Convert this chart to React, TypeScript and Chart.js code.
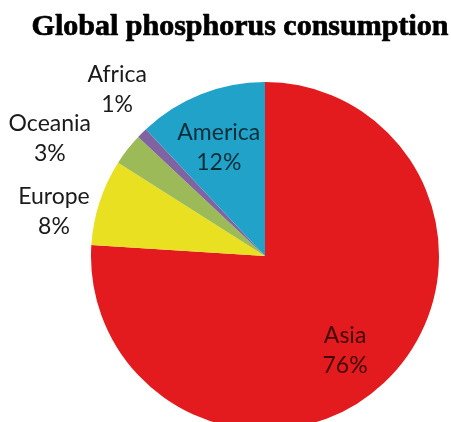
import React, { useEffect, useRef } from "react";
import { Chart, registerables } from "chart.js";

Chart.register(...registerables);

// Data
const chartTitle = "Global phosphorus consumption";
const categories = ["Asia", "Europe", "Oceania", "Africa", "America"];
const shares = [76, 8, 3, 1, 12];
const sliceColors = ["#E31B1E", "#E8E021", "#9CBB58", "#8064A2", "#21A3C9"];

// Label placement: radial distance (fraction of radius) and angular nudge (degrees)
const labelRadius = [0.71, 1.24, 1.41, 1.28, 0.68];
const labelAngleShift = [2.8, -6, -9.1, 3.4, -1.4];
const labelInside = [true, false, false, false, true];

const labelPlugin = {
  id: "sliceLabels",
  afterDatasetsDraw(chart: any) {
    const ctx = chart.ctx;
    const meta = chart.getDatasetMeta(0);
    ctx.save();
    ctx.font = '23px "Lato", "Open Sans", sans-serif';
    ctx.textAlign = "center";
    ctx.textBaseline = "alphabetic";
    meta.data.forEach((arc: any, i: number) => {
      const p = arc.getProps(["x", "y", "startAngle", "endAngle", "outerRadius"], true);
      const mid = (p.startAngle + p.endAngle) / 2 + (labelAngleShift[i] * Math.PI) / 180;
      const r = p.outerRadius * labelRadius[i];
      const cx = p.x + Math.cos(mid) * r;
      const cy = p.y + Math.sin(mid) * r;
      ctx.fillStyle = labelInside[i] ? "rgba(0,0,0,0.72)" : "#1a1a1a";
      ctx.fillText(categories[i], cx, cy - 7);
      ctx.fillText(`${shares[i]}%`, cx, cy + 23);
    });
    // Heading, drawn a touch heavier than the regular bold face
    ctx.fillStyle = "#000";
    ctx.strokeStyle = "#000";
    ctx.lineWidth = 0.7;
    ctx.lineJoin = "round";
    ctx.font = 'bold 30px "Liberation Serif", "Times New Roman", serif';
    ctx.fillText(chartTitle, 240, 35);
    ctx.strokeText(chartTitle, 240, 35);
    ctx.restore();
  },
};

export default function App() {
  const canvasRef = useRef<HTMLCanvasElement | null>(null);

  useEffect(() => {
    if (!canvasRef.current) return;
    const chart = new Chart(canvasRef.current, {
      type: "pie",
      data: {
        labels: categories,
        datasets: [
          {
            data: shares,
            backgroundColor: sliceColors,
            borderWidth: 0,
          },
        ],
      },
      options: {
        responsive: false,
        animation: false,
        layout: { padding: { left: 91, right: 12, top: 82, bottom: 10 } },
        plugins: {
          legend: { display: false },
          title: { display: false },
          tooltip: { enabled: false },
        },
      },
      plugins: [labelPlugin],
    });
    return () => chart.destroy();
  }, []);

  return (
    <div
      style={{
        position: "fixed",
        left: 0,
        top: 0,
        width: 451,
        height: 422,
        overflow: "hidden",
        background: "#fff",
      }}
    >
      <canvas ref={canvasRef} width={451} height={440} style={{ display: "block" }} />
    </div>
  );
}
